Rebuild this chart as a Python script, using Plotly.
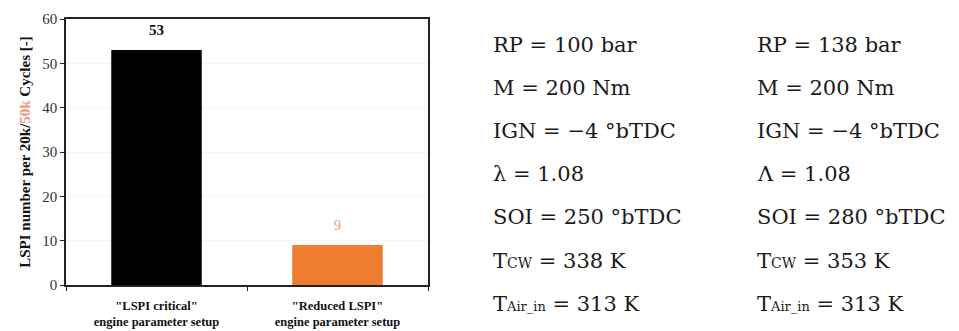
import plotly.graph_objects as go

categories = ['<b>"LSPI critical"<br>engine parameter setup</b>', '<b>"Reduced LSPI"<br>engine parameter setup</b>']
lspi_counts = [53, 9]
bar_colors = ["#000000", "#EE7D31"]
label_colors = ["#111111", "#F29A62"]
y_ticks = [0, 10, 20, 30, 40, 50, 60]

left_params = ["RP = 100 bar", "M = 200 Nm", "IGN = \u22124 \u00b0bTDC", "\u03bb = 1.08",
               "SOI = 250 \u00b0bTDC", "T<span style='font-size:14px'>CW</span> = 338 K",
               "T<span style='font-size:13px'>Air_in</span> = 313 K"]
right_params = ["RP = 138 bar", "M = 200 Nm", "IGN = \u22124 \u00b0bTDC", "\u039b = 1.08",
                "SOI = 280 \u00b0bTDC", "T<span style='font-size:14px'>CW</span> = 353 K",
                "T<span style='font-size:13px'>Air_in</span> = 313 K"]

W, H = 959, 331
ml, mr, mt, mb = 66, 8, 19, 46
pw = W - ml - mr
ph = H - mt - mb
plot_right_px = 428

serif = "Liberation Serif"
param_font = "DejaVu Serif"

fig = go.Figure()
fig.add_trace(go.Bar(
    x=categories, y=lspi_counts, width=0.5,
    marker=dict(color=bar_colors, line=dict(width=0)),
    showlegend=False,
))

annotations = []
for i, (cat, v) in enumerate(zip(categories, lspi_counts)):
    annotations.append(dict(
        x=cat, y=v, xref="x", yref="y", yanchor="bottom", yshift=10, showarrow=False,
        text=f"<b>{v}</b>" if i == 0 else f"{v}",
        font=dict(family=serif, size=15 if i == 0 else 14, color=label_colors[i]),
    ))

row_px = [45, 88, 131, 174, 217, 261, 304]
for col_x_px, params in [(491, left_params), (755, right_params)]:
    for ypx, txt in zip(row_px, params):
        annotations.append(dict(
            x=(col_x_px - ml) / pw, y=(H - mb - ypx) / ph, xref="paper", yref="paper",
            text=txt, showarrow=False, xanchor="left", yanchor="middle",
            font=dict(family=param_font, size=21, color="#1a1a1a"),
        ))

fig.update_layout(
    width=W, height=H,
    margin=dict(l=ml, r=mr, t=mt, b=mb, autoexpand=False),
    paper_bgcolor="white", plot_bgcolor="white",
    bargap=0.5,
    annotations=annotations,
    xaxis=dict(
        domain=[0, (plot_right_px - ml) / pw], automargin=False,
        showline=True, linecolor="#222", linewidth=1.5, mirror=True,
        ticks="outside", tickson="boundaries", ticklen=4, tickcolor="#222",
        ticklabelstandoff=8,
        tickfont=dict(family=serif, size=12.5, color="#111"),
        showgrid=False,
    ),
    yaxis=dict(
        range=[0, 60], tickvals=y_ticks, automargin=False,
        showline=True, linecolor="#222", linewidth=1.5, mirror=True,
        ticks="outside", ticklen=4, tickcolor="#222",
        tickfont=dict(family=serif, size=15, color="#333"),
        showgrid=True, gridcolor="#f4f4f4", zeroline=False,
        title=dict(text="<b>LSPI number per 20k/<span style='color:#F29A7A'>50k</span> Cycles [-]</b>",
                   font=dict(family=serif, size=15, color="#111"), standoff=8),
    ),
)

fig.write_html("out.html")
